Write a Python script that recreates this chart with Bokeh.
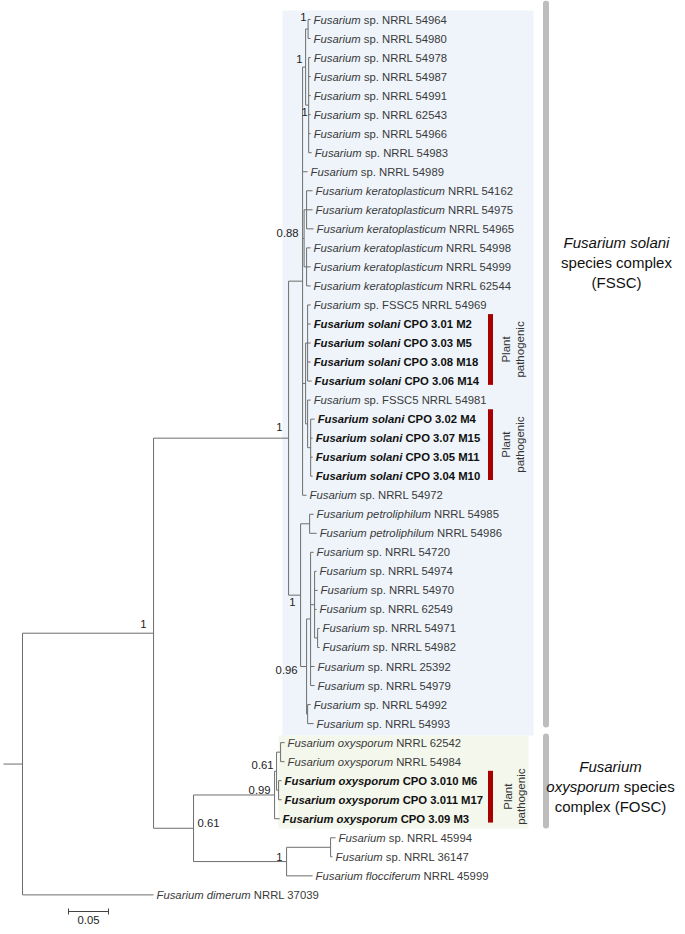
import re
import math
from bokeh.plotting import figure
from bokeh.models import Range1d, ColumnDataSource
from bokeh.embed import file_html
from bokeh.resources import INLINE
from bokeh.core.properties import value

# ---------------- data ----------------
# tip labels: italic part, roman part
tip_italic = (["Fusarium"] * 9 + ["Fusarium keratoplasticum"] * 6 + ["Fusarium"] +
              ["Fusarium solani"] * 4 + ["Fusarium"] + ["Fusarium solani"] * 4 +
              ["Fusarium"] + ["Fusarium petroliphilum"] * 2 + ["Fusarium"] * 10 +
              ["Fusarium oxysporum"] * 5 + ["Fusarium"] * 2 +
              ["Fusarium flocciferum", "Fusarium dimerum"])
tip_rest = ["sp. NRRL 54964", "sp. NRRL 54980", "sp. NRRL 54978", "sp. NRRL 54987",
            "sp. NRRL 54991", "sp. NRRL 62543", "sp. NRRL 54966", "sp. NRRL 54983",
            "sp. NRRL 54989", "NRRL 54162", "NRRL 54975", "NRRL 54965", "NRRL 54998",
            "NRRL 54999", "NRRL 62544", "sp. FSSC5 NRRL 54969", "CPO 3.01 M2",
            "CPO 3.03 M5", "CPO 3.08 M18", "CPO 3.06 M14", "sp. FSSC5 NRRL 54981",
            "CPO 3.02 M4", "CPO 3.07 M15", "CPO 3.05 M11", "CPO 3.04 M10",
            "sp. NRRL 54972", "NRRL 54985", "NRRL 54986", "sp. NRRL 54720",
            "sp. NRRL 54974", "sp. NRRL 54970", "sp. NRRL 62549", "sp. NRRL 54971",
            "sp. NRRL 54982", "sp. NRRL 25392", "sp. NRRL 54979", "sp. NRRL 54992",
            "sp. NRRL 54993", "NRRL 62542", "NRRL 54984", "CPO 3.010 M6",
            "CPO 3.011 M17", "CPO 3.09 M3", "sp. NRRL 45994", "sp. NRRL 36147",
            "NRRL 45999", "NRRL 37039"]
bold_tips = [16, 17, 18, 19, 21, 22, 23, 24, 40, 41, 42]

# tree (tips named by their index above), branch lengths in substitutions/site
clade_Q = "((0:0.0031,1:0.0031)Q1:0.0031,(2:0.0025,3:0.0025,4:0.0025,5:0.0025,6:0.0025,7:0.0038)Q2:0.0038)Q:0.0038"
clade_Kr = "((9:0.0075,10:0.0075,11:0.0088)Kr1:0.0031,(12:0.005,13:0.005,14:0.005)Kr2:0.0031)Kr:0.0019"
clade_S = "((15:0.0038,16:0.0038,17:0.0038,18:0.0038,19:0.005)SA:0.0025,(20:0.0038,(21:0.005,22:0.0025,23:0.0025,24:0.0025)SB2:0.0038)SB:0.0025)S:0.0038"
clade_J = "(" + clade_Q + ",8:0.0063," + clade_Kr + "," + clade_S + ",25:0.005)J:0.0175"
clade_K = ("((26:0.005,27:0.0088)Pe:0.0113,((28:0.0038,(29:0.0025,30:0.0038,31:0.0025,"
           "(32:0.0025,33:0.0025)M3n:0.0038)M2n:0.005,34:0.005,35:0.005)M1:0.005,"
           "(36:0.0038,37:0.0075)N:0.0013)L:0.0075)K:0.015")
clade_FOSC = "(((38:0.005,39:0.005)H:0.005,(40:0.0038,41:0.0038)I:0.0025)G:0.0025,42:0.0063)F:0.1013"
clade_D = "((43:0.0063,44:0.0025)D1:0.055,45:0.0325)D:0.1163"
newick = "(((" + clade_J + "," + clade_K + ")E:0.1688,(" + clade_FOSC + "," + clade_D + ")C:0.05)A:0.1638,46:0.1638)R;"

# posterior probabilities at nodes
support_nodes = ["Q1", "Q", "Q2", "Kr", "E", "K", "L", "A", "G", "F", "C", "D"]
support_vals = ["1", "1", "1", "0.88", "1", "1", "0.96", "1", "0.61", "0.99", "0.61", "1"]

scale_len = 0.05
scale_label = "0.05"

# ---------------- layout constants ----------------
W, H = 677, 926
PXU = 800.0          # px per substitution unit
ROOT_PX = 22.0       # pixel of root
TIP0, TIPSTEP = 19.0, 19.03


def X(px):
    return (px - ROOT_PX) / PXU


def Y(py):
    return (py - TIP0) / TIPSTEP


FONT = "Liberation Sans"
FS = 11.3
REG = dict(zip("abcdefghijklmnopqrstuvwxyz",
               [556, 556, 500, 556, 556, 278, 556, 556, 222, 222, 500, 222, 833, 556, 556, 556, 556, 333, 500, 278, 556, 500, 722, 500, 500, 500]))
BLD = dict(zip("abcdefghijklmnopqrstuvwxyz",
               [556, 611, 556, 611, 556, 333, 611, 611, 278, 278, 556, 278, 889, 611, 611, 611, 611, 389, 556, 333, 611, 556, 778, 556, 556, 500]))
for t in (REG, BLD):
    t[" "] = 278
    t["F"] = 611


def tw(s, bold, fs):
    t = BLD if bold else REG
    return sum(t.get(c, 556) for c in s) * fs / 1000.0


# ---------------- parse & layout tree ----------------
def parse(s):
    s = s.strip().rstrip(";")
    pos = 0

    def node():
        nonlocal pos
        children = []
        if s[pos] == "(":
            pos += 1
            while True:
                children.append(node())
                if s[pos] == ",":
                    pos += 1
                    continue
                if s[pos] == ")":
                    pos += 1
                    break
        m = re.match(r"([^:,();]*)(?::([0-9.eE-]+))?", s[pos:])
        pos += m.end()
        return {"name": m.group(1), "len": float(m.group(2) or 0.0), "children": children}

    return node()


root = parse(newick)
nodes = {}


def lay(n, x0):
    n["x"] = x0 + n["len"]
    if n["children"]:
        for c in n["children"]:
            lay(c, n["x"])
        n["y"] = (n["children"][0]["y"] + n["children"][-1]["y"]) / 2.0
    else:
        n["y"] = float(int(n["name"]))
    nodes[n["name"]] = n


lay(root, 0.0)

x0s, y0s, x1s, y1s = [], [], [], []
tips = {}


def collect(n):
    if n["children"]:
        x0s.append(n["x"]); y0s.append(n["children"][0]["y"])
        x1s.append(n["x"]); y1s.append(n["children"][-1]["y"])
        for c in n["children"]:
            x0s.append(n["x"]); y0s.append(c["y"])
            x1s.append(c["x"]); y1s.append(c["y"])
            collect(c)
    else:
        tips[int(n["name"])] = n


collect(root)
# root stub
x0s.append(X(3)); y0s.append(root["y"]); x1s.append(0.0); y1s.append(root["y"])

# ---------------- figure ----------------
p = figure(width=W, height=H, output_backend="svg", toolbar_location=None,
           x_range=Range1d(X(0), X(W)), y_range=Range1d(Y(H), Y(0)),
           min_border=0, x_axis_location=None, y_axis_location=None,
           outline_line_color=None, background_fill_color="white")
p.grid.visible = False

# clade boxes
p.quad(left=[X(282)], right=[X(533)], top=[Y(10)], bottom=[Y(735)],
       fill_color="#EEF4FA", line_color=None)
p.quad(left=[X(278)], right=[X(528)], top=[Y(735)], bottom=[Y(828)],
       fill_color="#F4F7EC", line_color=None)

# tree branches
p.segment(x0=x0s, y0=y0s, x1=x1s, y1=y1s, line_color="#6e6e6e", line_width=1)

# tip labels
for bold in (False, True):
    idx = [i for i in range(len(tip_rest)) if (i in bold_tips) == bold]
    src = ColumnDataSource(dict(
        x=[tips[i]["x"] for i in idx],
        y=[tips[i]["y"] for i in idx],
        it=[tip_italic[i] for i in idx],
        rest=[tip_rest[i] for i in idx],
        xo=[3 + tw(tip_italic[i] + " ", bold, FS) for i in idx],
    ))
    col = "#111111" if bold else "#3a3a3a"
    p.text(x="x", y="y", text="it", source=src, x_offset=3, text_font=value(FONT),
           text_font_size=f"{FS}px", text_font_style="bold italic" if bold else "italic",
           text_color=col, text_baseline="middle", text_align="left")
    p.text(x="x", y="y", text="rest", source=src, x_offset="xo", text_font=value(FONT),
           text_font_size=f"{FS}px", text_font_style="bold" if bold else "normal",
           text_color=col, text_baseline="middle", text_align="left")

# support values (pixel offsets relative to node)
sup_off = {"Q1": (-1.5, -12.5, "right"), "Q": (-3, -7.6, "right"), "Q2": (-1, 7, "right"),
           "Kr": (-5.5, -5, "right"), "E": (-6, -10.7, "right"), "K": (-5, 7, "right"),
           "L": (-9, 3, "right"), "A": (-7, -9.7, "right"), "G": (-3, -5.7, "right"),
           "F": (-4, -4.5, "right"), "C": (4, -4.8, "left"), "D": (-4, -5, "right")}
for nm, sv in zip(support_nodes, support_vals):
    dx, dy, al = sup_off[nm]
    n = nodes[nm]
    p.text(x=[n["x"]], y=[n["y"]], text=[sv], x_offset=dx, y_offset=dy,
           text_font=value(FONT), text_font_size=f"{FS}px", text_color="#222222",
           text_align=al, text_baseline="middle")

# plant pathogenic markers
groups = [(16, 19, 505, 519), (21, 24, 505, 519), (40, 42, 507, 520)]
for a, b, xl1, xl2 in groups:
    top = tips[a]["y"] - 0.52
    bot = tips[b]["y"] + 0.2
    p.segment(x0=[X(490)], y0=[top], x1=[X(490)], y1=[bot], line_color="#A80000", line_width=5)
    yc = (top + bot) / 2
    p.text(x=[X(xl1), X(xl2)], y=[yc, yc], text=["Plant", "pathogenic"], angle=math.pi / 2,
           text_font=value(FONT), text_font_size="11.5px", text_color="#333333",
           text_align="center", text_baseline="middle")

# grey complex bars
p.segment(x0=[X(545.5), X(545.5)], y0=[Y(3), Y(736)], x1=[X(545.5), X(545.5)],
          y1=[Y(724), Y(825)], line_color="#BDBDBD", line_width=6, line_cap="round")

# complex labels
FS2 = 15
cx1 = 616
p.text(x=[X(cx1)], y=[Y(242)], text=["Fusarium solani"], text_font=value(FONT),
       text_font_size=f"{FS2}px", text_font_style="italic", text_color="#111111",
       text_align="center", text_baseline="middle")
p.text(x=[X(cx1), X(cx1)], y=[Y(262), Y(282)], text=["species complex", "(FSSC)"],
       text_font=value(FONT), text_font_size=f"{FS2}px", text_color="#111111",
       text_align="center", text_baseline="middle")
cx = 610
p.text(x=[X(cx)], y=[Y(766)], text=["Fusarium"], text_font=value(FONT),
       text_font_size=f"{FS2}px", text_font_style="italic", text_color="#111111",
       text_align="center", text_baseline="middle")
w1 = tw("oxysporum ", False, FS2)
wt = w1 + tw("species", False, FS2)
start = cx - wt / 2
p.text(x=[X(start)], y=[Y(786)], text=["oxysporum"], text_font=value(FONT),
       text_font_size=f"{FS2}px", text_font_style="italic", text_color="#111111",
       text_align="left", text_baseline="middle")
p.text(x=[X(start + w1)], y=[Y(786)], text=["species"], text_font=value(FONT),
       text_font_size=f"{FS2}px", text_color="#111111",
       text_align="left", text_baseline="middle")
p.text(x=[X(cx)], y=[Y(806)], text=["complex (FOSC)"], text_font=value(FONT),
       text_font_size=f"{FS2}px", text_color="#111111",
       text_align="center", text_baseline="middle")

# scale bar
sx0 = X(68)
sy = Y(911)
p.segment(x0=[sx0], y0=[sy], x1=[sx0 + scale_len], y1=[sy], line_color="#444444", line_width=1)
p.segment(x0=[sx0, sx0 + scale_len], y0=[Y(908), Y(908)], x1=[sx0, sx0 + scale_len],
          y1=[Y(914), Y(914)], line_color="#444444", line_width=1)
p.text(x=[sx0 + scale_len / 2], y=[Y(919)], text=[scale_label], text_font=value(FONT),
       text_font_size=f"{FS}px", text_color="#222222", text_align="center",
       text_baseline="middle")

open("out.html", "w").write(file_html(p, INLINE))
